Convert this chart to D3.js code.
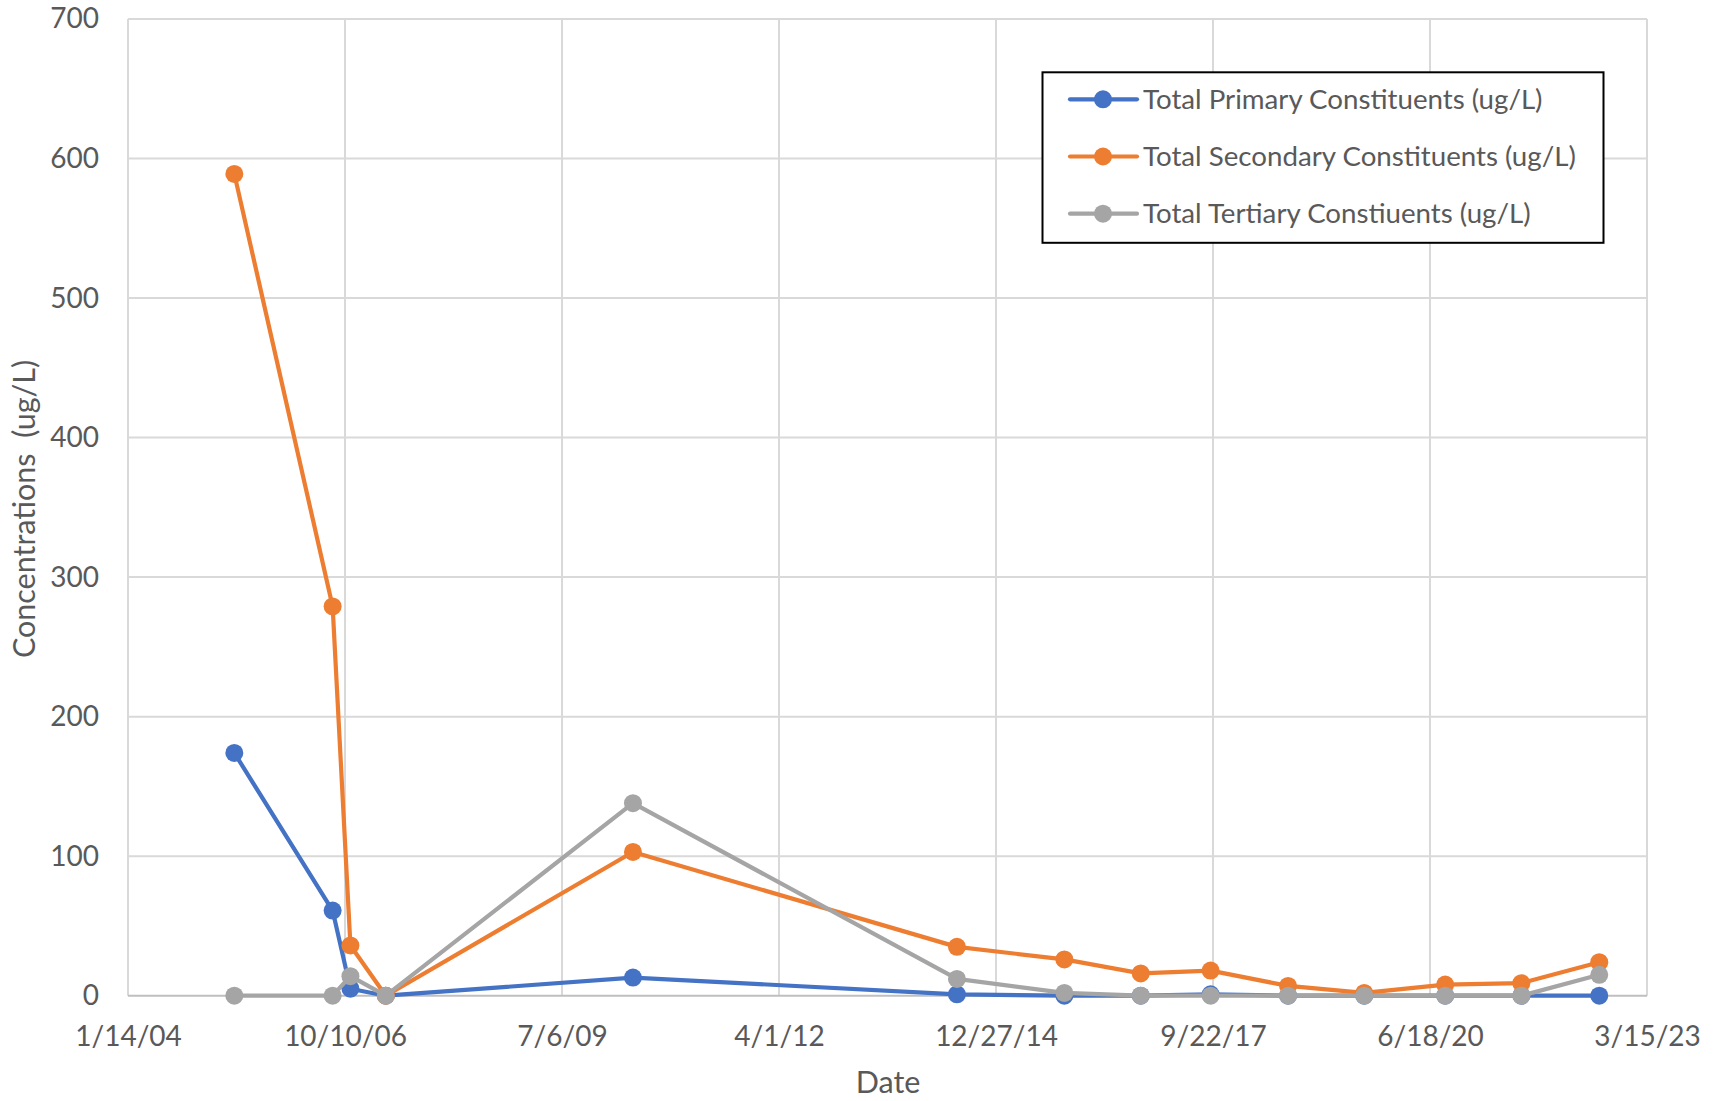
<!DOCTYPE html>
<html>
<head>
<meta charset="utf-8">
<script src="https://cdn.jsdelivr.net/npm/d3@7"></script>
<style>
  html, body { margin: 0; padding: 0; background: #ffffff; }
  svg { display: block; }
  text { font-family: Lato, "Open Sans", sans-serif; fill: #595959; }
</style>
</head>
<body>
<svg id="chart" width="1715" height="1101"></svg>
<script>
// Sample dates and summed concentrations per constituent class
const sampleDates = [
  "2005-05-18", "2006-08-14", "2006-11-04", "2007-04-16", "2010-05-29",
  "2014-06-30", "2015-11-07", "2016-10-24", "2017-09-11", "2018-09-03",
  "2019-08-20", "2020-08-27", "2021-08-13", "2022-08-07"
];
const primaryTotals   = [174, 61, 5, 0, 13, 1, 0, 0, 1, 0, 0, 0, 0, 0];
const secondaryTotals = [589, 279, 36, 0, 103, 35, 26, 16, 18, 7, 2, 8, 9, 24];
const tertiaryTotals  = [0, 0, 14, 0, 138, 12, 2, 0, 0, 0, 0, 0, 0, 15];

const seriesNames = [
  "Total Primary Constituents (ug/L)",
  "Total Secondary Constituents (ug/L)",
  "Total Tertiary Constiuents (ug/L)"
];
const seriesColors = ["#4472C4", "#ED7D31", "#A5A5A5"];

// Date axis runs in 1000-day steps
const xTickLabels = ["1/14/04", "10/10/06", "7/6/09", "4/1/12", "12/27/14", "9/22/17", "6/18/20", "3/15/23"];
const yTickValues = [0, 100, 200, 300, 400, 500, 600, 700];

const parse = d3.utcParse("%Y-%m-%d");
const axisStart = parse("2004-01-14");
const axisEnd = d3.utcDay.offset(axisStart, 7000);
const xTicks = d3.range(0, 8).map(i => d3.utcDay.offset(axisStart, i * 1000));

const svg = d3.select("#chart");
const plot = { left: 128, right: 1647, top: 19, bottom: 995.7 };

const x = d3.scaleUtc().domain([axisStart, axisEnd]).range([plot.left, plot.right]);
const y = d3.scaleLinear().domain([0, 700]).range([plot.bottom, plot.top]);

const FONT = 28;
const TITLE_FONT = 30.5;

// Gridlines
const grid = svg.append("g");
grid.selectAll("line.h").data(yTickValues.filter(v => v > 0)).join("line")
  .attr("x1", plot.left).attr("x2", plot.right)
  .attr("y1", d => y(d)).attr("y2", d => y(d))
  .attr("stroke", "#d9d9d9").attr("stroke-width", 2);
grid.selectAll("line.v").data(xTicks).join("line")
  .attr("x1", d => x(d)).attr("x2", d => x(d))
  .attr("y1", plot.top).attr("y2", plot.bottom)
  .attr("stroke", "#d9d9d9").attr("stroke-width", 2);

// Horizontal axis line at zero
svg.append("line")
  .attr("x1", plot.left).attr("x2", plot.right)
  .attr("y1", y(0)).attr("y2", y(0))
  .attr("stroke", "#bfbfbf").attr("stroke-width", 2);

// Y axis labels
const yAxis = d3.axisLeft(y).tickValues(yTickValues).tickSize(0).tickPadding(29);
const gy = svg.append("g").attr("transform", `translate(${plot.left},0)`).call(yAxis);
gy.select(".domain").remove();
gy.selectAll("text").style("font-size", FONT + "px").attr("fill", "#595959")
  .style("font-family", "Lato, 'Open Sans', sans-serif");

// X axis labels
const xAxis = d3.axisBottom(x).tickValues(xTicks).tickSize(0).tickPadding(30)
  .tickFormat((d, i) => xTickLabels[i]);
const gx = svg.append("g").attr("transform", `translate(0,${plot.bottom})`).call(xAxis);
gx.select(".domain").remove();
gx.selectAll("text").style("font-size", FONT + "px").attr("fill", "#595959")
  .style("font-family", "Lato, 'Open Sans', sans-serif");

// Axis titles
svg.append("text")
  .attr("transform", `translate(35,509) rotate(-90)`)
  .attr("text-anchor", "middle")
  .style("font-size", TITLE_FONT + "px")
  .text("Concentrations\u00a0\u00a0(ug/L)");
svg.append("text")
  .attr("x", 888).attr("y", 1093)
  .attr("text-anchor", "middle")
  .style("font-size", TITLE_FONT + "px")
  .text("Date");

// Series lines and markers
const allSeries = [primaryTotals, secondaryTotals, tertiaryTotals].map((vals, k) => ({
  name: seriesNames[k],
  color: seriesColors[k],
  points: sampleDates.map((d, i) => ({ date: parse(d), value: vals[i] }))
}));

const line = d3.line().x(d => x(d.date)).y(d => y(d.value));

const seriesG = svg.append("g").selectAll("g").data(allSeries).join("g");
seriesG.append("path")
  .attr("d", d => line(d.points))
  .attr("fill", "none")
  .attr("stroke", d => d.color)
  .attr("stroke-width", 4.2)
  .attr("stroke-linejoin", "round")
  .attr("stroke-linecap", "round");
seriesG.selectAll("circle").data(d => d.points.map(p => ({ ...p, color: d.color }))).join("circle")
  .attr("cx", d => x(d.date))
  .attr("cy", d => y(d.value))
  .attr("r", 9)
  .attr("fill", d => d.color);

// Legend
const legend = svg.append("g");
legend.append("rect")
  .attr("x", 1042.5).attr("y", 72.3)
  .attr("width", 561).attr("height", 170.5)
  .attr("fill", "#ffffff")
  .attr("stroke", "#000000").attr("stroke-width", 2);
const rows = legend.selectAll("g.row").data(allSeries).join("g")
  .attr("transform", (d, i) => `translate(0,${99.3 + i * 57.2})`);
rows.append("line")
  .attr("x1", 1070).attr("x2", 1137).attr("y1", 0).attr("y2", 0)
  .attr("stroke", d => d.color).attr("stroke-width", 4.2).attr("stroke-linecap", "round");
rows.append("circle")
  .attr("cx", 1103).attr("cy", 0).attr("r", 9)
  .attr("fill", d => d.color);
rows.append("text")
  .attr("x", 1143).attr("y", 0).attr("dy", "0.35em")
  .style("font-size", "27.7px")
  .text(d => d.name);
</script>
</body>
</html>
